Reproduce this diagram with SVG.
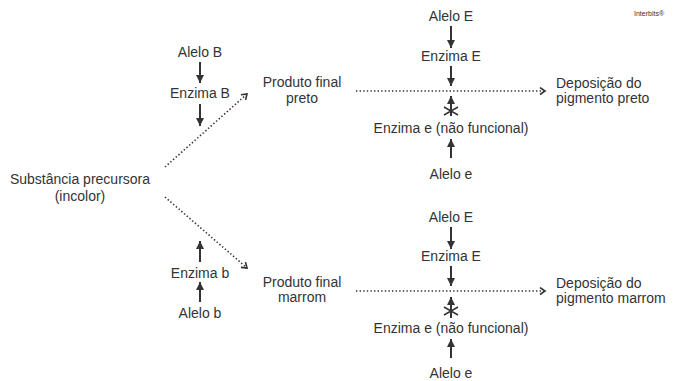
<svg xmlns="http://www.w3.org/2000/svg" width="681" height="381" viewBox="0 0 681 381">
<defs>
<style>
text{font-family:"Liberation Sans",Arial,sans-serif;font-size:14px;fill:#333;text-anchor:middle}
.l{text-anchor:start}
.sm{font-size:7px;text-anchor:start}
.a{stroke:#333;stroke-width:2;fill:none}
.d{stroke:#333;stroke-width:1.6;fill:none;stroke-dasharray:1.4 2.2}
.x{stroke:#333;stroke-width:1.5;fill:none}
</style>
<marker id="h" markerWidth="10" markerHeight="10" refX="8" refY="4" orient="auto" markerUnits="userSpaceOnUse">
<path d="M0,0 L8,4 L0,8 z" fill="#333"/>
</marker>
<marker id="o" markerWidth="10" markerHeight="10" refX="6" refY="4" orient="auto" markerUnits="userSpaceOnUse">
<path d="M1,0.5 L6,4 L1,7.5" fill="none" stroke="#333" stroke-width="1.6"/>
</marker>
</defs>
<rect width="681" height="381" fill="#fff"/>
<text class="sm" x="634" y="16">Interbits®</text>

<g id="precursor"><text x="80" y="184">Substância precursora</text><text x="80" y="201">(incolor)</text></g>
<g id="aleloB"><text x="200" y="57">Alelo B</text></g>
<g id="enzimaB"><text x="200" y="98">Enzima B</text></g>
<g id="enzimab"><text x="200" y="278">Enzima b</text></g>
<g id="alelob"><text x="200" y="318">Alelo b</text></g>
<g id="produtoPreto"><text x="302" y="87">Produto final</text><text x="302" y="103">preto</text></g>
<g id="produtoMarrom"><text x="302" y="287">Produto final</text><text x="302" y="302">marrom</text></g>
<g id="aleloE1"><text x="451" y="21">Alelo E</text></g>
<g id="enzimaE1"><text x="451" y="61">Enzima E</text></g>
<g id="enzimae1"><text x="451" y="133">Enzima e (não funcional)</text></g>
<g id="aleloe1"><text x="451" y="179">Alelo e</text></g>
<g id="deposPreto"><text class="l" x="556" y="88">Deposição do</text><text class="l" x="556" y="103">pigmento preto</text></g>
<g id="aleloE2"><text x="451" y="222">Alelo E</text></g>
<g id="enzimaE2"><text x="451" y="261">Enzima E</text></g>
<g id="enzimae2"><text x="451" y="333">Enzima e (não funcional)</text></g>
<g id="aleloe2"><text x="451" y="378">Alelo e</text></g>
<g id="deposMarrom"><text class="l" x="556" y="288">Deposição do</text><text class="l" x="556" y="303">pigmento marrom</text></g>

<g id="connectors">
<line class="a" x1="200" y1="62" x2="200" y2="83" marker-end="url(#h)"/>
<line class="a" x1="200" y1="104" x2="200" y2="126" marker-end="url(#h)"/>
<line class="a" x1="200" y1="262" x2="200" y2="241" marker-end="url(#h)"/>
<line class="a" x1="200" y1="302" x2="200" y2="282" marker-end="url(#h)"/>
<line class="d" x1="165" y1="167" x2="247" y2="94" marker-end="url(#o)"/>
<line class="d" x1="165" y1="197" x2="247" y2="268" marker-end="url(#o)"/>

<line class="a" x1="451" y1="26" x2="451" y2="48" marker-end="url(#h)"/>
<line class="a" x1="451" y1="66" x2="451" y2="86" marker-end="url(#h)"/>
<line class="d" x1="356" y1="91" x2="545" y2="91" marker-end="url(#o)"/>
<line class="a" x1="451" y1="116" x2="451" y2="96" marker-end="url(#h)"/>
<path class="x" d="M444,107 L458,115 M458,107 L444,115"/>
<line class="a" x1="451" y1="158" x2="451" y2="139" marker-end="url(#h)"/>

<line class="a" x1="451" y1="227" x2="451" y2="249" marker-end="url(#h)"/>
<line class="a" x1="451" y1="266" x2="451" y2="286" marker-end="url(#h)"/>
<line class="d" x1="356" y1="291" x2="545" y2="291" marker-end="url(#o)"/>
<line class="a" x1="451" y1="318" x2="451" y2="297" marker-end="url(#h)"/>
<path class="x" d="M444,307 L458,315 M458,307 L444,315"/>
<line class="a" x1="451" y1="358" x2="451" y2="339" marker-end="url(#h)"/>
</g>
</svg>
